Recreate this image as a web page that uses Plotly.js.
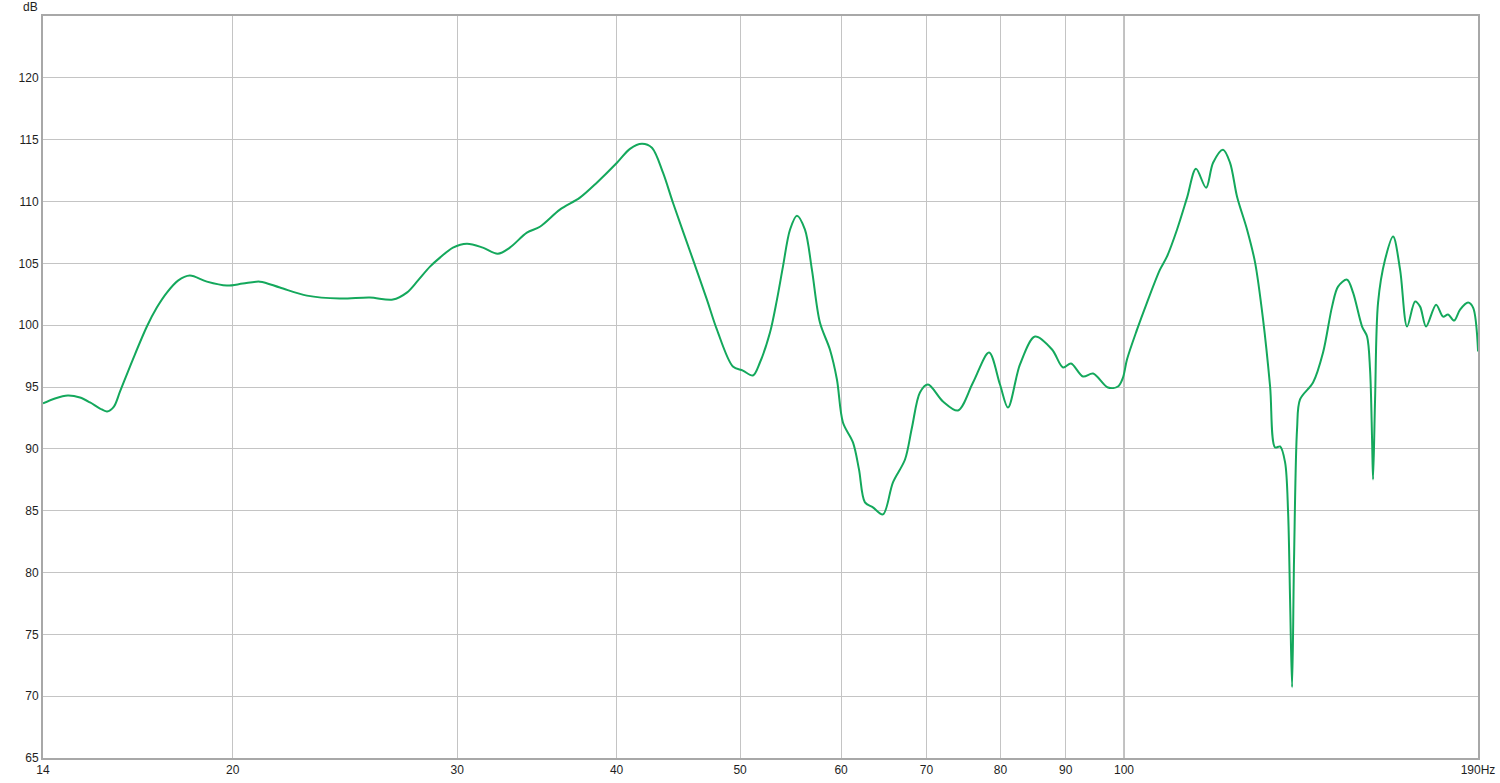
<!DOCTYPE html>
<html>
<head>
<meta charset="utf-8">
<script src="https://cdn.plot.ly/plotly-3.0.1.min.js"></script>
<style>
html,body{margin:0;padding:0;background:#fff;}
#chart{width:1500px;height:783px;}
</style>
</head>
<body>
<div id="chart"></div>
<script>
// Frequency (Hz) and level (dB)
const freq = [14.20,14.51,14.85,15.18,15.46,15.74,15.94,16.14,16.32,16.70,
  17.13,17.44,17.76,18.12,18.51,19.09,19.79,20.37,21.01,21.78,
  22.87,24.27,25.62,26.71,27.39,27.94,28.56,29.08,29.77,30.53,
  31.42,32.28,32.99,34.02,34.83,36.11,37.44,38.60,40.03,40.98,
  41.88,42.64,43.50,44.29,45.92,47.09,47.95,49.35,50.25,51.17,
  51.82,52.77,53.44,54.02,54.71,55.40,56.21,56.92,57.75,58.80,
  59.55,60.20,61.30,61.97,62.64,63.55,64.71,65.89,67.34,68.19,
  69.18,70.19,72.12,74.10,76.14,78.37,79.94,81.10,82.88,85.16,
  87.82,89.58,90.88,92.87,94.57,97.15,98.92,99.82,100.54,102.38,
  104.24,106.71,108.06,110.04,112.06,113.88,115.98,117.45,119.58,121.11,
  122.65,124.89,126.71,128.55,130.19,131.37,132.56,133.76,134.49,134.97,
  135.46,135.94,136.68,137.42,140.69,143.25,145.60,147.18,149.60,151.23,
  153.71,155.10,155.94,156.51,156.79,157.36,158.21,160.23,162.56,164.63,
  166.72,169.15,170.69,172.54,175.69,177.92,179.53,181.49,183.47,186.14,
  187.83,189.53];
const level = [93.67,94.07,94.31,94.15,93.75,93.26,93.02,93.42,94.64,97.22,
  99.89,101.42,102.63,103.60,104.01,103.52,103.20,103.36,103.52,103.04,
  102.39,102.15,102.23,102.07,102.63,103.60,104.73,105.46,106.27,106.59,
  106.27,105.78,106.27,107.48,107.96,109.34,110.31,111.52,113.13,114.26,
  114.67,114.35,112.33,109.90,105.30,102.07,99.64,96.66,96.33,95.93,
  96.98,99.40,102.07,104.73,107.72,108.85,107.72,104.49,100.21,98.03,
  95.61,92.13,90.52,88.34,85.67,85.27,84.70,87.29,89.14,91.73,
  94.56,95.20,93.83,93.10,95.36,97.79,95.20,93.34,96.82,99.08,
  98.03,96.58,96.90,95.85,96.09,94.96,95.04,95.77,97.22,99.64,
  101.83,104.49,105.54,107.72,110.31,112.65,111.11,113.13,114.18,113.13,
  110.39,107.72,105.06,100.45,95.04,90.11,90.19,88.90,84.86,77.84,
  70.73,81.07,91.57,93.99,95.36,97.79,101.50,103.12,103.68,102.63,
  99.89,99.08,96.41,90.76,87.53,93.99,101.83,105.30,107.16,104.49,
  99.89,101.91,101.50,99.89,101.66,100.69,100.86,100.37,101.26,101.83,
  101.42,97.87];

const xTickVals = [14.2,20,30,40,50,60,70,80,90,100,189.5];
const xTickText = ["14","20","30","40","50","60","70","80","90","100","190Hz"];
const yTickVals = [65,70,75,80,85,90,95,100,105,110,115,120];
const xRange = [14.2, 189.5];
const yRange = [65, 125];

const FONT = {family: "Liberation Sans, Arial, sans-serif", size: 12, color: "#1e1e1e"};

const trace = {
  x: freq, y: level, type: "scatter", mode: "lines",
  line: {color: "#14a85c", width: 2, shape: "spline", smoothing: 0.9},
  hoverinfo: "x+y"
};

const layout = {
  width: 1500, height: 783,
  margin: {l: 43, r: 22, t: 16, b: 25},
  paper_bgcolor: "#ffffff", plot_bgcolor: "#ffffff",
  showlegend: false,
  font: FONT,
  xaxis: {
    type: "log",
    range: [Math.log10(xRange[0]), Math.log10(xRange[1])],
    tickmode: "array", tickvals: xTickVals, ticktext: xTickText,
    showgrid: true, gridcolor: "#c4c4c4", gridwidth: 1,
    zeroline: false, ticks: "", showline: true, mirror: true,
    linecolor: "#a8a8a8", linewidth: 2,
    tickfont: FONT, automargin: false, fixedrange: true
  },
  yaxis: {
    range: yRange,
    tickmode: "array", tickvals: yTickVals,
    showgrid: true, gridcolor: "#c4c4c4", gridwidth: 1,
    zeroline: false, ticks: "", showline: true, mirror: true,
    linecolor: "#a8a8a8", linewidth: 2,
    tickfont: FONT, automargin: false, fixedrange: true
  },
  shapes: [
    {type: "line", xref: "x", yref: "paper", x0: 100, x1: 100, y0: 0, y1: 1,
     line: {color: "#808080", width: 1}, layer: "below"}
  ],
  annotations: [
    {text: "dB", xref: "paper", yref: "paper", x: 0, y: 1, xanchor: "right", yanchor: "bottom",
     xshift: -3, yshift: 0, showarrow: false, font: FONT}
  ]
};

Plotly.newPlot("chart", [trace], layout, {displayModeBar: false, staticPlot: true});
</script>
</body>
</html>
